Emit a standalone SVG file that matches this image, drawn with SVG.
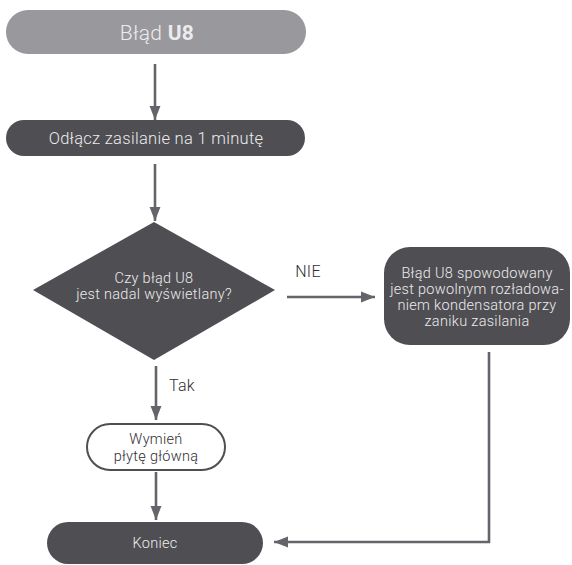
<svg xmlns="http://www.w3.org/2000/svg" width="572" height="565" viewBox="0 0 572 565">
<defs>
<marker id="ah" markerWidth="14" markerHeight="18" refX="18" refY="7" orient="auto" markerUnits="userSpaceOnUse" viewBox="0 0 18 14">
<path d="M0,0 L18,7 L0,14 Z" fill="#65646a"/>
</marker>
<style>
.t{font-family:Roboto,"Liberation Sans",sans-serif;font-weight:300;text-anchor:middle;letter-spacing:0.3px}
.lt{fill:#ececec}
.dk{fill:#2f2e33}
.c{fill:none;stroke:#65646a;stroke-width:2.6}
</style>
</defs>
<rect width="572" height="565" fill="#ffffff"/>
<g id="connectors">
<line class="c" x1="155" y1="64" x2="155" y2="120" marker-end="url(#ah)"/>
<line class="c" x1="155" y1="164" x2="155" y2="221" marker-end="url(#ah)"/>
<line class="c" x1="287" y1="297" x2="375" y2="297" marker-end="url(#ah)"/>
<line class="c" x1="156" y1="366" x2="156" y2="420" marker-end="url(#ah)"/>
<line class="c" x1="156" y1="472" x2="156" y2="520" marker-end="url(#ah)"/>
<polyline class="c" points="489,352 489,542 274,542" marker-end="url(#ah)"/>
<text class="t dk" x="308" y="277" font-size="16">NIE</text>
<text class="t dk" x="182" y="391" font-size="16">Tak</text>
</g>
<g id="start">
<rect x="6" y="10" width="300" height="44" rx="22" fill="#99989d"/>
<text class="t lt" x="157" y="39.5" font-size="21" fill="#f2f2f2">Błąd <tspan font-weight="700">U8</tspan></text>
</g>
<g id="disconnect">
<rect x="6" y="120" width="299" height="36" rx="18" fill="#4f4e53"/>
<text class="t lt" x="156" y="144" font-size="16.5">Odłącz zasilanie na 1 minutę</text>
</g>
<g id="decision">
<polygon points="154,222 275,290 154,360 33,290" fill="#4f4e53"/>
<text class="t lt" x="154" y="283" font-size="14.5">Czy błąd U8</text>
<text class="t lt" x="154" y="299" font-size="14.5">jest nadal wyświetlany?</text>
</g>
<g id="cause">
<rect x="384" y="247" width="186" height="98" rx="26" fill="#4f4e53"/>
<text class="t lt" x="477" y="278" font-size="14.5">Błąd U8 spowodowany</text>
<text class="t lt" x="477" y="294" font-size="14.5">jest powolnym rozładowa-</text>
<text class="t lt" x="477" y="310" font-size="14.5">niem kondensatora przy</text>
<text class="t lt" x="477" y="326" font-size="14.5">zaniku zasilania</text>
</g>
<g id="replace">
<rect x="87" y="424" width="138" height="46" rx="23" fill="#ffffff" stroke="#4f4e53" stroke-width="2"/>
<text class="t dk" x="156" y="444" font-size="14.5">Wymień</text>
<text class="t dk" x="156" y="461" font-size="14.5">płytę główną</text>
</g>
<g id="end">
<rect x="47" y="522" width="216" height="42" rx="21" fill="#4f4e53"/>
<text class="t lt" x="155" y="548" font-size="14.5">Koniec</text>
</g>
</svg>
